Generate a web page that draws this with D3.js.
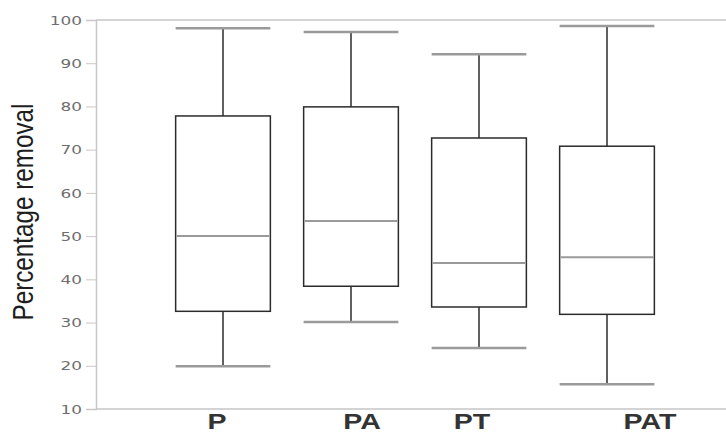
<!DOCTYPE html>
<html>
<head>
<meta charset="utf-8">
<script src="https://cdn.jsdelivr.net/npm/d3@7"></script>
<style>
  html, body { margin: 0; padding: 0; background: #fff; }
  svg { display: block; }
</style>
</head>
<body>
<div id="plot"></div>
<script>
// box plot of percentage removal per treatment

const groups = ["P", "PA", "PT", "PAT"];
const whiskerLow = [19.9, 30.1, 24.1, 15.7];
const quartile1 = [32.6, 38.4, 33.6, 31.9];
const medians = [50.0, 53.5, 43.8, 45.1];
const quartile3 = [77.8, 79.9, 72.7, 70.8];
const whiskerHigh = [98.1, 97.2, 92.1, 98.6];
const yTicks = [10, 20, 30, 40, 50, 60, 70, 80, 90, 100];

const width = 726, height = 434;
const margin = { top: 20, right: 0, bottom: 25, left: 96 };
const stretch = 1.3; // text in the source looks widened

// label offsets under the boxes (the original labels are not centred)
const labelNudge = { P: -6, PA: 11, PT: -7, PAT: 43 };

const svg = d3.select("#plot").append("svg")
    .attr("width", width)
    .attr("height", height);

const y = d3.scaleLinear()
    .domain([10, 100])
    .range([height - margin.bottom, margin.top]);

const x = d3.scaleBand()
    .domain(groups)
    .range([159, 671])
    .paddingInner(0.26)
    .paddingOuter(0.13);

const boxes = groups.map((g, i) => ({
    name: g,
    low: whiskerLow[i],
    q1: quartile1[i],
    median: medians[i],
    q3: quartile3[i],
    high: whiskerHigh[i]
}));

// frame lines: top and bottom
svg.append("line")
    .attr("x1", margin.left).attr("x2", width)
    .attr("y1", y(100)).attr("y2", y(100))
    .attr("stroke", "#d4d4d4").attr("stroke-width", 2);

svg.append("line")
    .attr("x1", margin.left).attr("x2", width)
    .attr("y1", y(10)).attr("y2", y(10))
    .attr("stroke", "#d4d4d4").attr("stroke-width", 2);

// y axis
const yAxis = svg.append("g")
    .attr("transform", `translate(${margin.left},0)`)
    .call(d3.axisLeft(y).tickValues(yTicks).tickSize(10).tickFormat(d3.format("d")));

yAxis.select(".domain").attr("stroke", "#c8c8c8").attr("stroke-width", 1.5);
yAxis.selectAll(".tick line").attr("stroke", "#c8c8c8");
yAxis.selectAll(".tick text")
    .attr("x", -14 / stretch)
    .attr("transform", `scale(${stretch},1)`)
    .attr("fill", "#6e6e6e")
    .style("font-family", "'DejaVu Sans', Verdana, sans-serif")
    .style("font-size", "13px");

// y title
svg.append("text")
    .attr("transform", `translate(33,212) scale(${stretch},1) rotate(-90)`)
    .attr("text-anchor", "middle")
    .attr("textLength", 217)
    .attr("lengthAdjust", "spacingAndGlyphs")
    .attr("fill", "#1e1e1e")
    .style("font-family", "'Liberation Sans Narrow', 'Liberation Sans', Arial, sans-serif")
    .style("font-size", "23px")
    .text("Percentage removal");

// boxes
const g = svg.selectAll(".box")
    .data(boxes)
    .enter()
    .append("g")
    .attr("class", "box");

const cx = d => x(d.name) + x.bandwidth() / 2;

// whisker stems
g.append("line")
    .attr("x1", cx).attr("x2", cx)
    .attr("y1", d => y(d.high)).attr("y2", d => y(d.q3))
    .attr("stroke", "#2b2b2b").attr("stroke-width", 1.5);

g.append("line")
    .attr("x1", cx).attr("x2", cx)
    .attr("y1", d => y(d.q1)).attr("y2", d => y(d.low))
    .attr("stroke", "#2b2b2b").attr("stroke-width", 1.5);

// whisker caps
["high", "low"].forEach(k => {
    g.append("line")
        .attr("x1", d => x(d.name)).attr("x2", d => x(d.name) + x.bandwidth())
        .attr("y1", d => y(d[k])).attr("y2", d => y(d[k]))
        .attr("stroke", "#9a9a9a").attr("stroke-width", 2.5);
});

g.append("rect")
    .attr("x", d => x(d.name))
    .attr("y", d => y(d.q3))
    .attr("width", x.bandwidth())
    .attr("height", d => y(d.q1) - y(d.q3))
    .attr("fill", "none")
    .attr("stroke", "#2b2b2b")
    .attr("stroke-width", 1.5);

// medians
g.append("line")
    .attr("x1", d => x(d.name) + 1).attr("x2", d => x(d.name) + x.bandwidth() - 1)
    .attr("y1", d => y(d.median)).attr("y2", d => y(d.median))
    .attr("stroke", "#9a9a9a").attr("stroke-width", 2);

// category labels
svg.selectAll(".xlabel")
    .data(groups)
    .enter()
    .append("text")
    .attr("class", "xlabel")
    .attr("transform", d => `translate(${x(d) + x.bandwidth() / 2 + labelNudge[d]},429) scale(${stretch},1)`)
    .attr("text-anchor", "middle")
    .attr("fill", "#333")
    .style("font-family", "'Liberation Sans', Arial, sans-serif")
    .style("font-weight", "bold")
    .style("font-size", "22px")
    .text(d => d);
</script>
</body>
</html>
